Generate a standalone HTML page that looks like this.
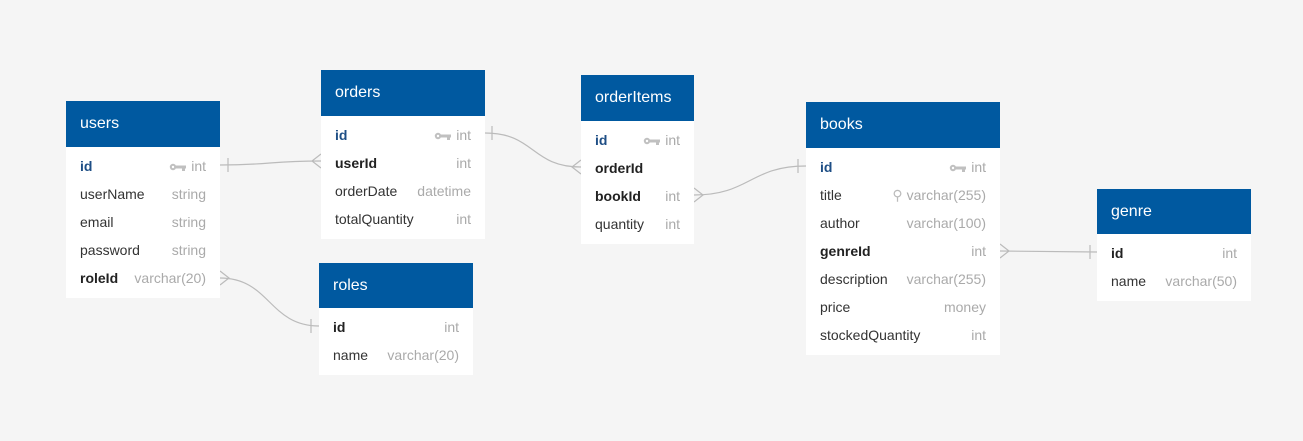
<!DOCTYPE html>
<html><head><meta charset="utf-8"><style>
body{margin:0;width:1303px;height:441px;background:#f5f5f5;font-family:"Liberation Sans",Arial,sans-serif;position:relative;overflow:hidden}
.t{position:absolute;background:#fff}
.h{background:#0059a0;color:#fff;font-size:16px;height:46px;line-height:46px;padding-left:14px}
.b{padding:5px 0 6px}
.r{height:28px;line-height:28px;font-size:14px;color:#333;padding:0 14px;display:flex;justify-content:space-between}
.r span.ty{color:#aaa}
.pk{color:#1e4e85;font-weight:bold}
.fk{font-weight:bold;color:#222}
.key{display:inline-block;width:17px;height:8px;margin-right:5px;vertical-align:0px}
svg.c{position:absolute;left:0;top:0}
</style></head><body>
<svg class="c" width="1303" height="441" fill="none" stroke="#bbb" stroke-width="1.2">
<path d="M220 165 C270 165,270 161,321 161"/><path d="M228 158v14"/><path d="M321 154 L312 161 L321 168"/>
<path d="M485 133 C535 133,531 167,581 167"/><path d="M492 126v14"/><path d="M581 160 L572 167 L581 174"/>
<path d="M694 195 C750 195,750 166,806 166"/><path d="M798 159v14"/><path d="M694 188 L703 195 L694 202"/>
<path d="M220 278 C270 278,269 326,319 326"/><path d="M311 319v14"/><path d="M220 271 L229 278 L220 285"/>
<path d="M1000 251 L1097 252"/><path d="M1090 245v14"/><path d="M1000 244 L1009 251 L1000 258"/>
</svg>
<svg width="0" height="0" style="position:absolute"><defs><symbol id="k" viewBox="0 0 17 8"><circle cx="4" cy="4" r="3.2" fill="#c0c0c0"/><circle cx="4" cy="4" r="1.2" fill="#fff"/><rect x="6" y="2.5" width="11" height="3" fill="#c0c0c0"/><rect x="13" y="4" width="3" height="4" fill="#c0c0c0"/></symbol></defs></svg>
<div class="t" style="left:66px;top:101px;width:154px"><div class="h">users</div><div class="b">
<div class="r"><span class="pk">id</span><span class="ty"><svg class="key"><use href="#k"/></svg>int</span></div>
<div class="r"><span>userName</span><span class="ty">string</span></div>
<div class="r"><span>email</span><span class="ty">string</span></div>
<div class="r"><span>password</span><span class="ty">string</span></div>
<div class="r"><span class="fk">roleId</span><span class="ty">varchar(20)</span></div></div></div>
<div class="t" style="left:321px;top:70px;width:164px"><div class="h">orders</div><div class="b">
<div class="r"><span class="pk">id</span><span class="ty"><svg class="key"><use href="#k"/></svg>int</span></div>
<div class="r"><span class="fk">userId</span><span class="ty">int</span></div>
<div class="r"><span>orderDate</span><span class="ty">datetime</span></div>
<div class="r"><span>totalQuantity</span><span class="ty">int</span></div></div></div>
<div class="t" style="left:581px;top:75px;width:113px"><div class="h">orderItems</div><div class="b">
<div class="r"><span class="pk">id</span><span class="ty"><svg class="key"><use href="#k"/></svg>int</span></div>
<div class="r"><span class="fk">orderId</span><span class="ty"></span></div>
<div class="r"><span class="fk">bookId</span><span class="ty">int</span></div>
<div class="r"><span>quantity</span><span class="ty">int</span></div></div></div>
<div class="t" style="left:319px;top:263px;width:154px"><div class="h" style="height:45px;line-height:45px">roles</div><div class="b">
<div class="r"><span class="fk">id</span><span class="ty">int</span></div>
<div class="r"><span>name</span><span class="ty">varchar(20)</span></div></div></div>
<div class="t" style="left:806px;top:102px;width:194px"><div class="h">books</div><div class="b">
<div class="r"><span class="pk">id</span><span class="ty"><svg class="key"><use href="#k"/></svg>int</span></div>
<div class="r"><span>title</span><span class="ty"><span style="color:#bbb;margin-right:4px">&#9906;</span>varchar(255)</span></div>
<div class="r"><span>author</span><span class="ty">varchar(100)</span></div>
<div class="r"><span class="fk">genreId</span><span class="ty">int</span></div>
<div class="r"><span>description</span><span class="ty">varchar(255)</span></div>
<div class="r"><span>price</span><span class="ty">money</span></div>
<div class="r"><span>stockedQuantity</span><span class="ty">int</span></div></div></div>
<div class="t" style="left:1097px;top:189px;width:154px"><div class="h" style="height:45px;line-height:45px">genre</div><div class="b">
<div class="r"><span class="fk">id</span><span class="ty">int</span></div>
<div class="r"><span>name</span><span class="ty">varchar(50)</span></div></div></div>
</body></html>
